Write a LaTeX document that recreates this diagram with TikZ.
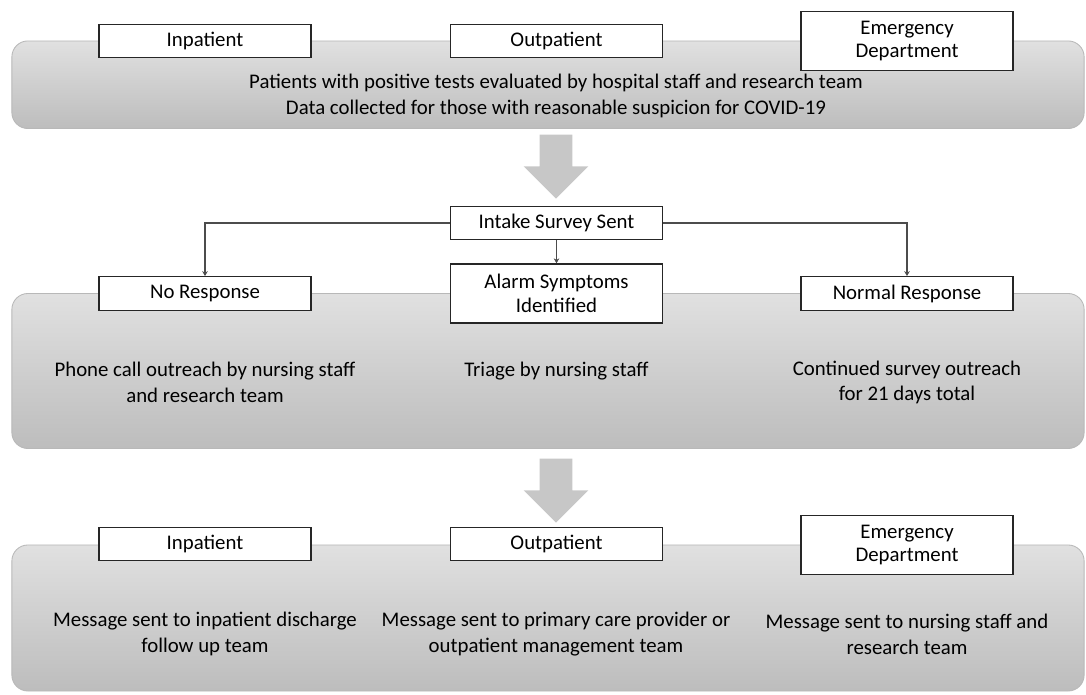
\documentclass[tikz,border=0pt]{standalone}
\usepackage{fontspec}
\setmainfont{Carlito}
\usetikzlibrary{positioning}
\usetikzlibrary{shapes.arrows}
\usetikzlibrary{arrows.meta}

\tikzset{
  panel/.style={draw=black!28, line width=0.6pt, rounded corners=0.4cm,
    top color=black!12, bottom color=black!26,
    minimum width=26.8cm, inner sep=0pt},
  box/.style={draw=black!85, fill=white, line width=0.9pt,
    minimum width=5.3cm, minimum height=0.84cm, inner sep=1pt,
    align=center, font=\fontsize{14.8}{16.6}\selectfont},
  tallbox/.style={box, minimum height=1.48cm},
  note/.style={align=center, font=\fontsize{14.8}{18.4}\selectfont},
  bigarrow/.style={single arrow, draw=none, fill=black!22, rotate=-90,
    minimum width=1.6cm, minimum height=1.6cm,
    inner xsep=0pt, inner ysep=0.4cm, text height=0pt, text depth=0pt,
    single arrow head extend=0.4cm},
  link/.style={draw=black!70, line width=0.9pt,
    -{Stealth[length=3.5pt,width=4pt]}},
}

\begin{document}
\begin{tikzpicture}[x=0.025cm, y=-0.025cm]
\useasboundingbox (0,0) rectangle (1086,695);

% intake panel
\node[panel, minimum height=2.19cm] (top) at (548,84.75) {};
\node[box] (inp1) at (205,41) {Inpatient};
\node[box] (out1) at (556.5,41) {Outpatient};
\node[tallbox] (ed1) at (907,41) {Emergency\\Department};
\node[note] (intro) at (556,96) {Patients with positive tests evaluated by hospital staff and research team\\
  Data collected for those with reasonable suspicion for COVID-19};

\node[bigarrow, anchor=tip] (arrowA) at (556,199) {};

% survey panel
\node[panel, minimum height=3.875cm] (mid) at (548,371) {};
\node[box] (intake) at (556.5,223) {Intake Survey Sent};
\node[tallbox] (alarm) at (556.5,293.5) {Alarm Symptoms\\Identified};
\node[box] (nores) at (205,293.5) {No Response};
\node[box] (normal) at (907,293.5) {Normal Response};
\draw[link] (intake.west) -| (nores.north);
\draw[link] (intake.east) -| (normal.north);
\draw[link] (intake.south) -- (alarm.north);

\node[note] (phone) at (205,382.5) {Phone call outreach by nursing staff\\and research team};
\node[note, anchor=north] (triage) at (phone.north -| alarm) {Triage by nursing staff};
\node[note] (cont) at (907,382.5) {Continued survey outreach\\for 21 days total};

\node[bigarrow, anchor=tip] (arrowB) at (556,523) {};

% message panel
\node[panel, minimum height=3.65cm] (low) at (548,618) {};
\node[box] (inp2) at (205,544) {Inpatient};
\node[box] (out2) at (556.5,544) {Outpatient};
\node[tallbox] (ed2) at (907,545) {Emergency\\Department};

\node[note] (msg1) at (205,634) {Message sent to inpatient discharge\\follow up team};
\node[note] (msg2) at (556,634) {Message sent to primary care provider or\\outpatient management team};
\node[note] (msg3) at (907,634) {Message sent to nursing staff and\\research team};
\end{tikzpicture}
\end{document}
